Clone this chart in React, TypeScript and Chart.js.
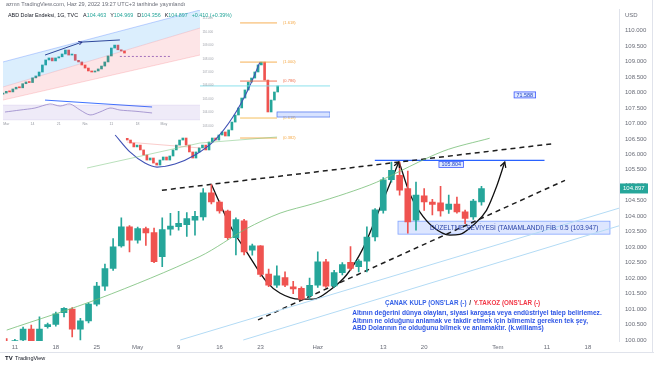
import React, { useEffect, useRef } from "react";
import { Chart, registerables } from "chart.js";
Chart.register(...registerables);

const FONT = '"Liberation Sans", Arial, sans-serif';
const UP = "#26a69a";
const DOWN = "#ef5350";

// ---------------- main chart data (daily candles, 8 Nis .. 29 Haz) ----------------
const opens = [99.85, 99.8, 100.0, 100.35, 99.9, 100.43, 100.5, 100.88, 101.0, 100.35, 100.62, 101.16, 101.74, 102.31, 103.04, 103.66, 103.23, 103.6, 103.47, 102.69, 103.58, 103.66, 103.73, 103.87, 103.98, 104.76, 104.46, 104.17, 103.31, 103.85, 102.9, 103.04, 102.13, 101.77, 102.02, 101.72, 101.67, 101.43, 101.77, 102.53, 101.75, 102.18, 102.51, 102.37, 102.55, 103.33, 104.19, 105.18, 105.32, 104.89, 103.87, 104.66, 104.46, 104.43, 104.22, 104.39, 104.14, 103.98, 104.463];
const highs = [100.05, 100.02, 100.42, 100.48, 100.75, 100.55, 100.9, 101.05, 101.05, 100.7, 101.2, 101.86, 102.45, 103.28, 103.95, 103.7, 103.65, 103.65, 103.62, 103.95, 104.09, 104.16, 104.12, 104.16, 104.89, 105.02, 104.5, 104.2, 103.95, 103.9, 103.1, 103.05, 102.29, 102.4, 102.2, 101.9, 101.72, 102.0, 102.85, 102.61, 102.25, 102.5, 103.02, 102.6, 103.66, 104.25, 105.25, 105.75, 105.75, 105.46, 105.1, 104.89, 104.55, 104.97, 104.68, 104.62, 104.2, 104.55, 104.969];
const lows = [99.6, 99.6, 99.9, 99.8, 99.85, 100.38, 100.45, 100.75, 100.1, 100.0, 100.55, 101.1, 101.6, 102.25, 103.0, 102.85, 103.13, 103.06, 102.5, 102.37, 103.39, 103.55, 103.35, 103.39, 103.87, 104.4, 104.1, 103.25, 102.75, 102.75, 102.74, 102.05, 101.72, 101.7, 101.72, 101.5, 101.3, 101.32, 101.7, 101.7, 101.7, 102.1, 102.25, 102.2, 102.2, 103.2, 104.1, 105.1, 104.68, 103.45, 103.55, 104.19, 104.04, 104.0, 104.09, 104.1, 103.76, 103.9, 104.356];
const closes = [99.8, 99.98, 100.35, 99.9, 100.35, 100.5, 100.85, 101.02, 100.35, 100.62, 101.16, 101.74, 102.31, 103.01, 103.66, 103.23, 103.6, 103.46, 102.53, 103.57, 103.68, 103.77, 103.92, 104.0, 104.76, 104.46, 104.17, 103.31, 103.89, 102.85, 103.04, 102.12, 101.77, 102.07, 101.77, 101.65, 101.32, 101.77, 102.53, 101.74, 102.18, 102.44, 102.31, 102.55, 103.33, 104.21, 105.18, 105.48, 104.84, 103.82, 104.68, 104.46, 104.38, 104.17, 104.39, 104.14, 103.93, 104.49, 104.897];

const xTickIdx = [1, 6, 11, 16, 21, 26, 31, 38, 46, 51, 60, 66, 71];
const xTickLabels = ["11", "18", "25", "May", "9", "16", "23", "Haz", "13", "20", "Tem", "11", "18"];
const yTickValues = [100, 100.5, 101, 101.5, 102, 102.5, 103, 103.5, 104, 104.5, 105, 105.5, 106, 106.5, 107, 107.5, 108, 108.5, 109, 109.5, 110];

const maIdx = [0, 11.4, 23.6, 29.3, 33.4, 37.4, 41.5, 45.2, 53.3, 59];
const maVal = [100.32, 101.35, 102.7, 103.6, 104.1, 104.4, 104.74, 105.1, 106.1, 106.52];

const blue1Idx = [21.2, 74.8];
const blue1Val = [100.0, 104.26];
const blue2Idx = [28.9, 74.8];
const blue2Val = [100.0, 103.69];

const upperTrendIdx = [18.96, 66.95];
const upperTrendVal = [104.84, 106.35];
const lowerTrendIdx = [30.7, 68.2];
const lowerTrendVal = [100.65, 105.16];

const cupIdx = [25.03, 27.27, 29.3, 31.75, 33.37, 35.81, 37.44, 39.47, 41.51, 43.54, 45.58, 47.9];
const cupVal = [105.02, 103.71, 102.85, 101.88, 101.52, 101.32, 101.32, 101.61, 102.1, 102.97, 104.25, 105.75];
const handleIdx = [47.94, 49.24, 50.46, 52.09, 54.13, 55.35, 56.97, 58.61, 59.83, 60.84];
const handleVal = [105.75, 104.73, 104.14, 103.65, 103.39, 103.41, 103.71, 104.19, 104.95, 105.75];

const levelIdx = [44.97, 65.7];
const levelValue = 105.804;
const levelLabelIdx = 54.3;
const boxLabelIdx = 63.3;
const boxLabelValue = 107.92;
const boxLabelText = "71.588";

const zoneIdx = [47.8, 73.7];
const zoneVal = [103.42, 103.84];
const zoneText = "DÜZELTME SEVİYESİ (TAMAMLANDI) FİB. 0.5 (103.947)";
const zoneTextIdx = 51.7;

const titleIdx = 46.2;
const titleValue = 101.19;
const titleParts = ["ÇANAK KULP (ONS'LAR (-)", " / ", "Y.TAKOZ (ONS'LAR (-)"];
const quoteIdx = 42.2;
const quoteValue = 100.87;
const quoteLines = [
  "Altının değerini dünya olayları, siyasi kargaşa veya endüstriyel talep belirlemez.",
  "Altının ne olduğunu anlamak ve takdir etmek için bilmemiz gereken tek şey,",
  "ABD Dolarının ne olduğunu bilmek ve anlamaktır. (k.williams)",
];

const headerLine1 = "azmn TradingView.com, Haz 29, 2022 19:27 UTC+3 tarihinde yayınlandı";
const headerTitle = "ABD Dolar Endeksi, 1G, TVC";
const headerFields = [["A", "104.463"], ["Y", "104.969"], ["D", "104.356"], ["K", "104.897"]];
const headerChange = "+0.410 (+0.39%)";

// ---------------- inset A (embedded screenshot, channel view) ----------------
const insAClose = [29, 30.5, 30, 32.5, 34, 33.5, 37, 38.5, 38, 42, 43.6, 47, 53, 57.3, 59, 56.5, 59, 60, 62.4, 65.8, 61.5, 62, 57, 55.6, 53, 50.4, 47.9, 47, 47.9, 49.6, 52.1, 55.6, 60.7, 67.5, 70, 66, 65, 63.2];
const insAChanIdx = [0, 60];
const insAUpper = [55.6, 100];
const insAMid = [34.2, 84.6];
const insALower = [23, 61.5];
const insAOscIdx = [0.6, 5.2, 9.7, 14.3, 17.4, 20.4, 23.5, 26.5, 29.5, 32.6, 35.6, 40.2, 45.4];
const insAOscVal = [12.8, 14.5, 16.2, 19.7, 17.9, 19.7, 14.5, 10.3, 12.8, 16.2, 14.5, 13.5, 12];
const insAOscBand = [6, 18.8];
const insATrendIdx = [12.8, 24.1, 35.6];
const insATrendVal = [61.5, 72.6, 74.4];
const insAOscTrendIdx = [12.8, 45.4];
const insAOscTrendVal = [23, 17.1];
const insADashIdx = [35.6, 50.9];
const insADashVal = [60.3, 60.3];
const insADateIdx = [1, 9, 17, 25, 33, 41, 49];
const insADateText = ["Mar", "14", "21", "Nis", "11", "18", "May"];

// ---------------- inset B (embedded screenshot, fib view) ----------------
const insBStart = 38;
const insBClose = [22.6, 20.8, 18.5, 19.6, 16.7, 13.7, 10.7, 11.9, 8.9, 7.7, 10.7, 12.5, 10.7, 13.1, 16.7, 19.6, 22.6, 23.8, 19.6, 15.5, 11.9, 15.5, 17.9, 19.6, 16.7, 21.4, 23.8, 22.6, 25.6, 27.4, 25, 28.6, 33.3, 37.5, 41.7, 47.6, 52.4, 57.1, 59.5, 63.1, 67.3, 69, 58.3, 39.3, 46.4, 51.2, 54.8];
const insBArcIdx = [34.3, 38.8, 43.4, 47.1, 52.6, 58.7, 64.8, 70.3, 74.9, 78.6];
const insBArcVal = [25.6, 15.5, 8.9, 6.5, 8.3, 13.7, 22.6, 36.3, 52.4, 69];
const insBFibIdx = [72.5, 83.8];
const insBFibVal = [92.3, 69, 57.7, 35.7, 23.8];
const insBFibColor = ["#f5a742", "#f5a742", "#ef6c4a", "#f2b84b", "#f5a742"];
const insBFibText = ["(1.618)", "(1.000)", "(0.786)", "(0.618)", "(0.382)"];
const insBCyanIdx = [60.2, 100];
const insBCyanVal = 54.8;
const insBBoxIdx = [83.8, 100];
const insBBoxVal = [36.3, 39.3];
const insBGreenIdx = [25.7, 60.2, 83.8];
const insBGreenVal = [5.95, 20.8, 24.4];
const insBRedIdx = [37.9, 60.2];
const insBRedVal = [21.4, 17.9];
const insBAxisIdx = 61;
const insBAxisVal = [95, 87, 79, 71, 63, 55, 47, 39, 31];
const insBAxisText = ["111.000", "110.000", "109.000", "108.000", "107.000", "106.000", "105.000", "104.000", "103.000"];

const pts = (xs: number[], ys: number[]) => xs.map((x, i) => ({ x, y: ys[i] }));

function drawArrow(ctx: CanvasRenderingContext2D, x1: number, y1: number, x2: number, y2: number, size: number) {
  const a = Math.atan2(y2 - y1, x2 - x1);
  ctx.beginPath();
  ctx.moveTo(x2 - size * Math.cos(a - 0.5), y2 - size * Math.sin(a - 0.5));
  ctx.lineTo(x2, y2);
  ctx.lineTo(x2 - size * Math.cos(a + 0.5), y2 - size * Math.sin(a + 0.5));
  ctx.stroke();
}

const arrowPlugin = (indices: number[], size: number) => ({
  id: "arrows",
  afterDatasetsDraw(chart: any) {
    const ctx = chart.ctx;
    indices.forEach((di) => {
      const d = chart.getDatasetMeta(di).data;
      const n = d.length;
      const ds = chart.data.datasets[di];
      ctx.save();
      ctx.strokeStyle = ds.borderColor;
      ctx.lineWidth = ds.borderWidth;
      ctx.setLineDash([]);
      drawArrow(ctx, d[n - 2].x, d[n - 2].y, d[n - 1].x, d[n - 1].y, size);
      ctx.restore();
    });
  },
});

const whiteBg = {
  id: "whiteBg",
  beforeDraw(chart: any) {
    const ctx = chart.ctx;
    ctx.save();
    ctx.fillStyle = "#ffffff";
    ctx.fillRect(0, 0, chart.width, chart.height);
    ctx.restore();
  },
};

function candleSets(op: number[], cl: number[], start: number, thick: number) {
  const body = cl.map((c, i) => ({ x: start + i, y: [op[i], c] }));
  const col = cl.map((c, i) => (c >= op[i] ? UP : DOWN));
  return {
    type: "bar",
    data: body,
    backgroundColor: col,
    barThickness: thick,
    minBarLength: 1,
    grouped: false,
    borderWidth: 0,
  };
}

const line = (data: any[], color: string, width: number, extra: any = {}) => ({
  type: "line",
  data,
  borderColor: color,
  borderWidth: width,
  pointRadius: 0,
  fill: false,
  ...extra,
});

function insetOptions(xMax: number) {
  return {
    responsive: false,
    animation: false,
    events: [],
    layout: { padding: 0, autoPadding: false },
    plugins: { legend: { display: false }, tooltip: { enabled: false } },
    scales: {
      x: { type: "linear", display: false, min: 0, max: xMax, offset: false },
      y: { type: "linear", display: false, min: 0, max: 100 },
    },
  };
}

function buildInsetA(canvas: HTMLCanvasElement) {
  const prev = [insAClose[0] - 1, ...insAClose.slice(0, -1)];
  const dates = {
    id: "dates",
    afterDatasetsDraw(chart: any) {
      const ctx = chart.ctx;
      const xs = chart.scales.x, ys = chart.scales.y;
      ctx.save();
      ctx.font = `3.5px ${FONT}`;
      ctx.fillStyle = "#9598a1";
      ctx.textAlign = "center";
      ctx.textBaseline = "middle";
      insADateIdx.forEach((d, i) => ctx.fillText(insADateText[i], xs.getPixelForValue(d), ys.getPixelForValue(2.5)));
      ctx.restore();
    },
  };
  return new Chart(canvas, {
    type: "bar",
    data: {
      datasets: [
        line(pts(insAChanIdx, insAUpper), "rgba(41,98,255,0.35)", 0.8, { fill: "+1", backgroundColor: "rgba(33,150,243,0.16)" }),
        line(pts(insAChanIdx, insAMid), "rgba(242,54,69,0.25)", 0.6, { fill: "+1", backgroundColor: "rgba(242,54,69,0.13)" }),
        line(pts(insAChanIdx, insALower), "rgba(242,54,69,0.3)", 0.6),
        line(pts(insAChanIdx, [insAOscBand[1], insAOscBand[1]]), "rgba(126,87,194,0.2)", 0.5, { fill: "+1", backgroundColor: "rgba(126,87,194,0.12)" }),
        line(pts(insAChanIdx, [insAOscBand[0], insAOscBand[0]]), "rgba(126,87,194,0.2)", 0.5),
        line(pts(insAOscIdx, insAOscVal), "#8e7cc3", 0.7, { tension: 0.3 }),
        line(pts(insAOscTrendIdx, insAOscTrendVal), "#2962ff", 0.9),
        line(pts(insADashIdx, insADashVal), "#7e57c2", 0.8, { borderDash: [2, 2] }),
        line(pts(insATrendIdx.slice(0, 2), insATrendVal.slice(0, 2)), "#1a237e", 0.9),
        line(pts(insATrendIdx.slice(1), insATrendVal.slice(1)), "#1a237e", 0.9),
        candleSets(prev, insAClose, 0, 2),
      ] as any,
    },
    options: insetOptions(60) as any,
    plugins: [whiteBg, arrowPlugin([8], 4), dates],
  });
}

function buildInsetB(canvas: HTMLCanvasElement) {
  const prev = [insBClose[0] + 1, ...insBClose.slice(0, -1)];
  const fibSets = insBFibVal.map((v, i) => line(pts(insBFibIdx, [v, v]), insBFibColor[i], 0.9));
  const fibLabels = {
    id: "fibLabels",
    afterDatasetsDraw(chart: any) {
      const ctx = chart.ctx;
      const xs = chart.scales.x, ys = chart.scales.y;
      ctx.save();
      ctx.font = `4px ${FONT}`;
      ctx.textBaseline = "middle";
      insBFibVal.forEach((v, i) => {
        ctx.fillStyle = insBFibColor[i];
        ctx.fillText(insBFibText[i], xs.getPixelForValue(insBFibIdx[1]) + 6, ys.getPixelForValue(v));
      });
      ctx.font = `3px ${FONT}`;
      ctx.fillStyle = "#a0a3ab";
      insBAxisVal.forEach((v, i) => ctx.fillText(insBAxisText[i], xs.getPixelForValue(insBAxisIdx), ys.getPixelForValue(v)));
      const bx0 = xs.getPixelForValue(insBBoxIdx[0]), bx1 = xs.getPixelForValue(insBBoxIdx[1]);
      const by0 = ys.getPixelForValue(insBBoxVal[1]), by1 = ys.getPixelForValue(insBBoxVal[0]);
      ctx.fillStyle = "rgba(41,98,255,0.18)";
      ctx.fillRect(bx0, by0, bx1 - bx0, by1 - by0);
      ctx.strokeStyle = "#5b7ff0";
      ctx.lineWidth = 0.8;
      ctx.strokeRect(bx0, by0, bx1 - bx0, by1 - by0);
      ctx.restore();
    },
  };
  return new Chart(canvas, {
    type: "bar",
    data: {
      datasets: [
        line(pts(insBGreenIdx, insBGreenVal), "rgba(129,199,132,0.8)", 0.7),
        line(pts(insBRedIdx, insBRedVal), "rgba(239,83,80,0.5)", 0.6),
        line(pts(insBCyanIdx, [insBCyanVal, insBCyanVal]), "#80deea", 0.9),
        ...fibSets,
        line(pts(insBArcIdx, insBArcVal), "#3f51b5", 1.1, { cubicInterpolationMode: "monotone" }),
        candleSets(prev, insBClose, insBStart, 2),
      ] as any,
    },
    options: insetOptions(100) as any,
    plugins: [whiteBg, fibLabels],
  });
}

function buildMain(canvas: HTMLCanvasElement) {
  const idx = opens.map((_, i) => i);
  const col = closes.map((c, i) => (c >= opens[i] ? UP : DOWN));
  const decor = {
    id: "decor",
    beforeDatasetsDraw(chart: any) {
      const ctx = chart.ctx;
      const xs = chart.scales.x, ys = chart.scales.y;
      const x0 = xs.getPixelForValue(zoneIdx[0]), x1 = xs.getPixelForValue(zoneIdx[1]);
      const y0 = ys.getPixelForValue(zoneVal[1]), y1 = ys.getPixelForValue(zoneVal[0]);
      ctx.save();
      ctx.fillStyle = "rgba(41,98,255,0.16)";
      ctx.fillRect(x0, y0, x1 - x0, y1 - y0);
      ctx.strokeStyle = "rgba(41,98,255,0.55)";
      ctx.lineWidth = 0.8;
      ctx.strokeRect(x0, y0, x1 - x0, y1 - y0);
      ctx.restore();
    },
    afterDatasetsDraw(chart: any) {
      const ctx = chart.ctx;
      const xs = chart.scales.x, ys = chart.scales.y;
      const px = (v: number) => xs.getPixelForValue(v);
      const py = (v: number) => ys.getPixelForValue(v);
      ctx.save();
      ctx.textBaseline = "middle";
      // zone text
      ctx.font = `6.5px ${FONT}`;
      ctx.fillStyle = "#2b44a8";
      ctx.fillText(zoneText, px(zoneTextIdx), (py(zoneVal[0]) + py(zoneVal[1])) / 2 + 0.5);
      // boxed labels
      const drawBox = (text: string, cx: number, cy: number) => {
        ctx.font = `5.4px ${FONT}`;
        const w = ctx.measureText(text).width + 5;
        ctx.fillStyle = "rgba(220,230,255,0.9)";
        ctx.fillRect(cx - w / 2, cy - 3, w, 6);
        ctx.strokeStyle = "#3d5afe";
        ctx.lineWidth = 0.8;
        ctx.strokeRect(cx - w / 2, cy - 3, w, 6);
        ctx.fillStyle = "#1a3fc4";
        ctx.textAlign = "center";
        ctx.fillText(text, cx, cy + 0.3);
        ctx.textAlign = "left";
      };
      drawBox(levelValue.toFixed(3), px(levelLabelIdx), py(levelValue) + 4);
      drawBox(boxLabelText, px(boxLabelIdx), py(boxLabelValue));
      // title
      ctx.font = `bold 6.3px ${FONT}`;
      let tx = px(titleIdx);
      const ty = py(titleValue);
      const tCols = ["#3461e8", "#333333", "#f23645"];
      titleParts.forEach((t, i) => {
        ctx.fillStyle = tCols[i];
        ctx.fillText(t, tx, ty);
        tx += ctx.measureText(t).width + 1;
      });
      // quote
      ctx.font = `bold 6.6px ${FONT}`;
      ctx.fillStyle = "#2f56e6";
      quoteLines.forEach((l, i) => ctx.fillText(l, px(quoteIdx), py(quoteValue) + i * 7.6));
      ctx.restore();
    },
    afterDraw(chart: any) {
      const ctx = chart.ctx;
      const ys = chart.scales.y;
      ctx.save();
      ctx.textBaseline = "middle";
      // header
      ctx.font = `5.6px ${FONT}`;
      ctx.fillStyle = "#6a6d78";
      ctx.fillText(headerLine1, 6, 4.5);
      ctx.font = `5.4px ${FONT}`;
      ctx.fillStyle = "#131722";
      let hx = 8;
      ctx.fillText(headerTitle, hx, 16);
      hx += ctx.measureText(headerTitle).width + 5;
      headerFields.forEach(([k, v]) => {
        ctx.fillStyle = "#131722";
        ctx.fillText(k, hx, 16);
        hx += ctx.measureText(k).width;
        ctx.fillStyle = UP;
        ctx.fillText(v, hx, 16);
        hx += ctx.measureText(v).width + 4;
      });
      ctx.fillStyle = UP;
      ctx.fillText(headerChange, hx, 16);
      // axis unit
      ctx.fillStyle = "#6a6d78";
      ctx.font = `6px ${FONT}`;
      ctx.fillText("USD", 625, 15);
      // last price tag
      const last = closes[closes.length - 1];
      const ly = ys.getPixelForValue(last);
      ctx.fillStyle = UP;
      ctx.fillRect(620, ly - 5, 28, 10);
      ctx.fillStyle = "#ffffff";
      ctx.fillText(last.toFixed(3), 623, ly + 0.3);
      // bottom frame + logo
      ctx.strokeStyle = "#e0e3eb";
      ctx.lineWidth = 1;
      ctx.beginPath();
      ctx.moveTo(0, 352.5);
      ctx.lineTo(654, 352.5);
      ctx.moveTo(652.5, 0);
      ctx.lineTo(652.5, 352);
      ctx.stroke();
      ctx.fillStyle = "#131722";
      ctx.font = `bold 6px ${FONT}`;
      ctx.fillText("TV", 5, 358);
      ctx.font = `5.5px ${FONT}`;
      ctx.fillText("TradingView", 15, 358);
      ctx.restore();
    },
  };

  return new Chart(canvas, {
    type: "bar",
    data: {
      datasets: [
        line(pts(blue1Idx, blue1Val), "#b3dbf5", 1),
        line(pts(blue2Idx, blue2Val), "#b3dbf5", 1),
        line(pts(maIdx, maVal), "rgba(110,185,110,0.75)", 1, { tension: 0.3 }),
        {
          type: "bar",
          data: idx.map((i) => ({ x: i, y: [lows[i], highs[i]] })),
          backgroundColor: col,
          barThickness: 1,
          grouped: false,
          borderWidth: 0,
        },
        candleSets(opens, closes, 0, 6),
        line(pts(upperTrendIdx, upperTrendVal), "#1e1e1e", 1.5, { borderDash: [5, 4] }),
        line(pts(lowerTrendIdx, lowerTrendVal), "#1e1e1e", 1.5, { borderDash: [5, 4] }),
        line(pts(levelIdx, [levelValue, levelValue]), "#2962ff", 1.2),
        line(pts(cupIdx, cupVal), "#111111", 1.3, { cubicInterpolationMode: "monotone" }),
        line(pts(handleIdx, handleVal), "#111111", 1.3, { cubicInterpolationMode: "monotone" }),
      ] as any,
    },
    options: {
      responsive: false,
      animation: false,
      events: [],
      layout: { padding: { top: 9, left: 0, right: 0, bottom: 0 }, autoPadding: false },
      plugins: { legend: { display: false }, tooltip: { enabled: false } },
      scales: {
        x: {
          type: "linear",
          min: -0.82,
          max: 74.8,
          offset: false,
          grid: { display: false, drawTicks: false },
          border: { display: false },
          afterFit: (s: any) => {
            s.height = 25;
          },
          afterBuildTicks: (s: any) => {
            s.ticks = xTickIdx.map((v) => ({ value: v }));
          },
          ticks: {
            autoSkip: false,
            maxRotation: 0,
            padding: 3,
            color: "#6a6d78",
            font: { family: FONT, size: 6 },
            callback: (v: any) => {
              const k = xTickIdx.indexOf(Number(v));
              return k >= 0 ? xTickLabels[k] : "";
            },
          },
        },
        y: {
          type: "linear",
          position: "right",
          min: 99.968,
          max: 110.677,
          grid: { display: false, drawTicks: false },
          border: { display: true, color: "#e0e3eb" },
          afterFit: (s: any) => {
            s.width = 35;
          },
          afterBuildTicks: (s: any) => {
            s.ticks = yTickValues.map((v) => ({ value: v }));
          },
          ticks: {
            padding: 6,
            color: "#6a6d78",
            font: { family: FONT, size: 6 },
            callback: (v: any) => Number(v).toFixed(3),
          },
        },
      },
    } as any,
    plugins: [decor, arrowPlugin([8, 9], 6)],
  });
}

export default function App() {
  const mainRef = useRef<HTMLCanvasElement>(null);
  const aRef = useRef<HTMLCanvasElement>(null);
  const bRef = useRef<HTMLCanvasElement>(null);
  useEffect(() => {
    const charts: Chart[] = [];
    if (bRef.current) charts.push(buildInsetB(bRef.current));
    if (aRef.current) charts.push(buildInsetA(aRef.current));
    if (mainRef.current) charts.push(buildMain(mainRef.current));
    return () => charts.forEach((c) => c.destroy());
  }, []);
  const abs = (l: number, t: number, w: number, h: number, z: number): React.CSSProperties => ({
    position: "absolute",
    left: l,
    top: t,
    width: w,
    height: h,
    zIndex: z,
  });
  return (
    <div style={{ position: "absolute", left: 0, top: 0, width: 654, height: 366, background: "#ffffff" }}>
      <canvas ref={bRef} width={327} height={168} style={abs(3, 10, 327, 168, 1)} />
      <canvas ref={aRef} width={197} height={117} style={abs(3, 10, 197, 117, 2)} />
      <canvas ref={mainRef} width={654} height={366} style={abs(0, 0, 654, 366, 3)} />
    </div>
  );
}
